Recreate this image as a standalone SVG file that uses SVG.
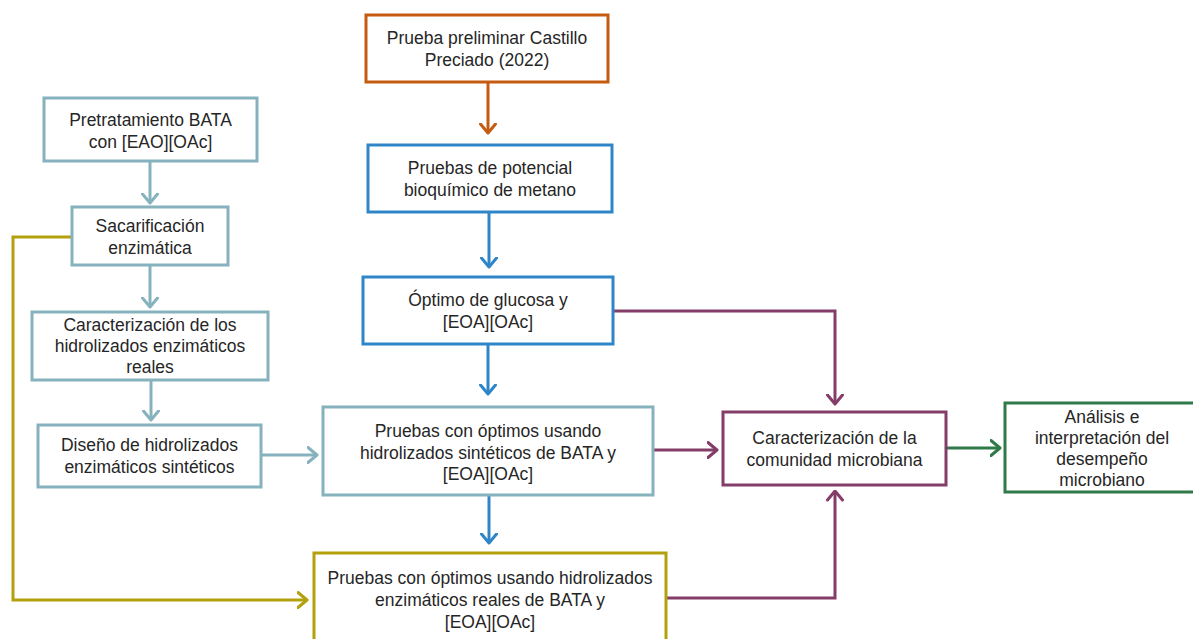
<svg xmlns="http://www.w3.org/2000/svg" width="1193" height="639" viewBox="0 0 1193 639">
<style>
  .box { fill: #ffffff; stroke-width: 3; }
  .teal { stroke: #85b2bd; }
  .orange { stroke: #c55a11; }
  .blue { stroke: #2e86c8; }
  .purple { stroke: #843c68; }
  .green { stroke: #2f7a48; }
  .yellow { stroke: #b4a00c; }
  .conn { fill: none; stroke-width: 3; }
  text { font-family: "Liberation Sans", Arial, sans-serif; font-size: 17.5px; fill: #262626; text-anchor: middle; }
</style>
<defs>
  <marker id="ah-teal" viewBox="0 0 12 18" markerUnits="userSpaceOnUse" markerWidth="12" markerHeight="18" refX="10.5" refY="9" orient="auto"><path d="M1.5,1.5 L10.5,9 L1.5,16.5" fill="none" stroke="#85b2bd" stroke-width="3" stroke-linejoin="round" stroke-linecap="round"/></marker>
  <marker id="ah-orange" viewBox="0 0 12 18" markerUnits="userSpaceOnUse" markerWidth="12" markerHeight="18" refX="10.5" refY="9" orient="auto"><path d="M1.5,1.5 L10.5,9 L1.5,16.5" fill="none" stroke="#c55a11" stroke-width="3" stroke-linejoin="round" stroke-linecap="round"/></marker>
  <marker id="ah-blue" viewBox="0 0 12 18" markerUnits="userSpaceOnUse" markerWidth="12" markerHeight="18" refX="10.5" refY="9" orient="auto"><path d="M1.5,1.5 L10.5,9 L1.5,16.5" fill="none" stroke="#2e86c8" stroke-width="3" stroke-linejoin="round" stroke-linecap="round"/></marker>
  <marker id="ah-purple" viewBox="0 0 12 18" markerUnits="userSpaceOnUse" markerWidth="12" markerHeight="18" refX="10.5" refY="9" orient="auto"><path d="M1.5,1.5 L10.5,9 L1.5,16.5" fill="none" stroke="#843c68" stroke-width="3" stroke-linejoin="round" stroke-linecap="round"/></marker>
  <marker id="ah-green" viewBox="0 0 12 18" markerUnits="userSpaceOnUse" markerWidth="12" markerHeight="18" refX="10.5" refY="9" orient="auto"><path d="M1.5,1.5 L10.5,9 L1.5,16.5" fill="none" stroke="#2f7a48" stroke-width="3" stroke-linejoin="round" stroke-linecap="round"/></marker>
  <marker id="ah-yellow" viewBox="0 0 12 18" markerUnits="userSpaceOnUse" markerWidth="12" markerHeight="18" refX="10.5" refY="9" orient="auto"><path d="M1.5,1.5 L10.5,9 L1.5,16.5" fill="none" stroke="#b4a00c" stroke-width="3" stroke-linejoin="round" stroke-linecap="round"/></marker>
</defs>
<rect width="1193" height="639" fill="#ffffff"/>

<g id="connectors">
  <path class="conn teal" d="M150,161 V203" marker-end="url(#ah-teal)"/>
  <path class="conn teal" d="M150,265 V307" marker-end="url(#ah-teal)"/>
  <path class="conn teal" d="M151,380 V420" marker-end="url(#ah-teal)"/>
  <path class="conn teal" d="M261,455 H317" marker-end="url(#ah-teal)"/>
  <path class="conn orange" d="M488,82 V133" marker-end="url(#ah-orange)"/>
  <path class="conn blue" d="M489,212 V267" marker-end="url(#ah-blue)"/>
  <path class="conn blue" d="M488,344 V394" marker-end="url(#ah-blue)"/>
  <path class="conn blue" d="M489,495 V543" marker-end="url(#ah-blue)"/>
  <path class="conn purple" d="M613,311 H835 V404" marker-end="url(#ah-purple)"/>
  <path class="conn purple" d="M653,450 H717" marker-end="url(#ah-purple)"/>
  <path class="conn purple" d="M666,598 H835 V491" marker-end="url(#ah-purple)"/>
  <path class="conn green" d="M946,448 H1000" marker-end="url(#ah-green)"/>
  <path class="conn yellow" d="M72,237 H13 V600 H307" marker-end="url(#ah-yellow)"/>
</g>

<g id="pretratamiento">
  <rect class="box teal" x="44" y="98" width="213" height="63"/>
  <text x="150.5"><tspan x="150.5" y="126">Pretratamiento BATA</tspan><tspan x="150.5" y="148">con [EAO][OAc]</tspan></text>
</g>
<g id="sacarificacion">
  <rect class="box teal" x="72" y="207" width="156" height="58"/>
  <text><tspan x="150" y="232">Sacarificación</tspan><tspan x="150" y="254">enzimática</tspan></text>
</g>
<g id="caracterizacion-hidrolizados">
  <rect class="box teal" x="32" y="312" width="236" height="68"/>
  <text><tspan x="150" y="331">Caracterización de los</tspan><tspan x="150" y="352">hidrolizados enzimáticos</tspan><tspan x="150" y="373">reales</tspan></text>
</g>
<g id="diseno">
  <rect class="box teal" x="38" y="425" width="223" height="62"/>
  <text><tspan x="149.5" y="451">Diseño de hidrolizados</tspan><tspan x="149.5" y="473">enzimáticos sintéticos</tspan></text>
</g>
<g id="prueba-preliminar">
  <rect class="box orange" x="366" y="15" width="242" height="67"/>
  <text><tspan x="487" y="44">Prueba preliminar Castillo</tspan><tspan x="487" y="66">Preciado (2022)</tspan></text>
</g>
<g id="pruebas-potencial">
  <rect class="box blue" x="368" y="145" width="244" height="67"/>
  <text><tspan x="490" y="174">Pruebas de potencial</tspan><tspan x="490" y="196">bioquímico de metano</tspan></text>
</g>
<g id="optimo">
  <rect class="box blue" x="363" y="277" width="250" height="67"/>
  <text><tspan x="488" y="306">Óptimo de glucosa y</tspan><tspan x="488" y="328">[EOA][OAc]</tspan></text>
</g>
<g id="pruebas-sinteticos">
  <rect class="box teal" x="323" y="407" width="330" height="88"/>
  <text><tspan x="488" y="437">Pruebas con óptimos usando</tspan><tspan x="488" y="459">hidrolizados sintéticos de BATA y</tspan><tspan x="488" y="480">[EOA][OAc]</tspan></text>
</g>
<g id="pruebas-reales">
  <rect class="box yellow" x="314" y="553" width="352" height="95"/>
  <text><tspan x="490" y="584">Pruebas con óptimos usando hidrolizados</tspan><tspan x="490" y="606">enzimáticos reales de BATA y</tspan><tspan x="490" y="628">[EOA][OAc]</tspan></text>
</g>
<g id="caracterizacion-comunidad">
  <rect class="box purple" x="723" y="412" width="223" height="73"/>
  <text><tspan x="834.5" y="444">Caracterización de la</tspan><tspan x="834.5" y="466">comunidad microbiana</tspan></text>
</g>
<g id="analisis">
  <rect class="box green" x="1005" y="403" width="195" height="89"/>
  <text><tspan x="1102" y="423">Análisis e</tspan><tspan x="1102" y="444">interpretación del</tspan><tspan x="1102" y="465">desempeño</tspan><tspan x="1102" y="486">microbiano</tspan></text>
</g>
</svg>
